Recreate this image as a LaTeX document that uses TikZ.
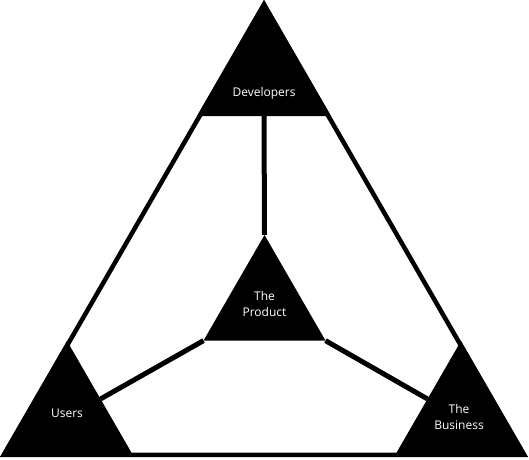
\documentclass[tikz,border=0pt]{standalone}
\usepackage{fontspec}
\setmainfont{Open Sans}
\usetikzlibrary{shapes.geometric}
\tikzset{
  tri/.style={regular polygon, regular polygon sides=3, fill=black, inner sep=0pt, outer sep=0pt},
  framestyle/.style={regular polygon, regular polygon sides=3, draw=black, line width=4.5pt, miter limit=10, inner sep=0pt, outer sep=0pt},
  link/.style={draw=black, line width=5pt},
  txt/.style={text=white, font=\fontsize{12}{16}\selectfont, align=center, inner sep=0pt}
}
\begin{document}
\begin{tikzpicture}[x=1pt,y=-1pt]
  \fill[white] (0,0) rectangle (529,459);
  \useasboundingbox (0,0) rectangle (529,459);
  % outer frame
  \node[framestyle, minimum size=600.3pt] (frame) at (264,304.67) {};
  % corner triangles
  \node[tri, minimum size=154.7pt] (dev) at (264,77.36) {};
  \node[tri, minimum size=154.7pt] (users) at (67,418.3) {};
  \node[tri, minimum size=154.7pt] (biz) at (461,418.3) {};
  % centre triangle
  \node[tri, minimum size=140.9pt] (prod) at (264.5,305.4) {};
  % connectors
  \draw[link] (prod.corner 1) -- (dev.side 2);
  \draw[link] (prod.corner 2) -- (users.side 3);
  \draw[link] (prod.corner 3) -- (biz.side 1);
  % labels
  \node[txt] (devl) at ([yshift=-15.6pt]dev.center) {Developers};
  \node[txt] (usersl) at ([yshift=5.3pt]users.center) {Users};
  \node[txt] (bizl) at ([xshift=-2pt,yshift=1pt]biz.center) {The\\Business};
  \node[txt] (prodl) at ([yshift=1pt]prod.center) {The\\Product};
\end{tikzpicture}
\end{document}
